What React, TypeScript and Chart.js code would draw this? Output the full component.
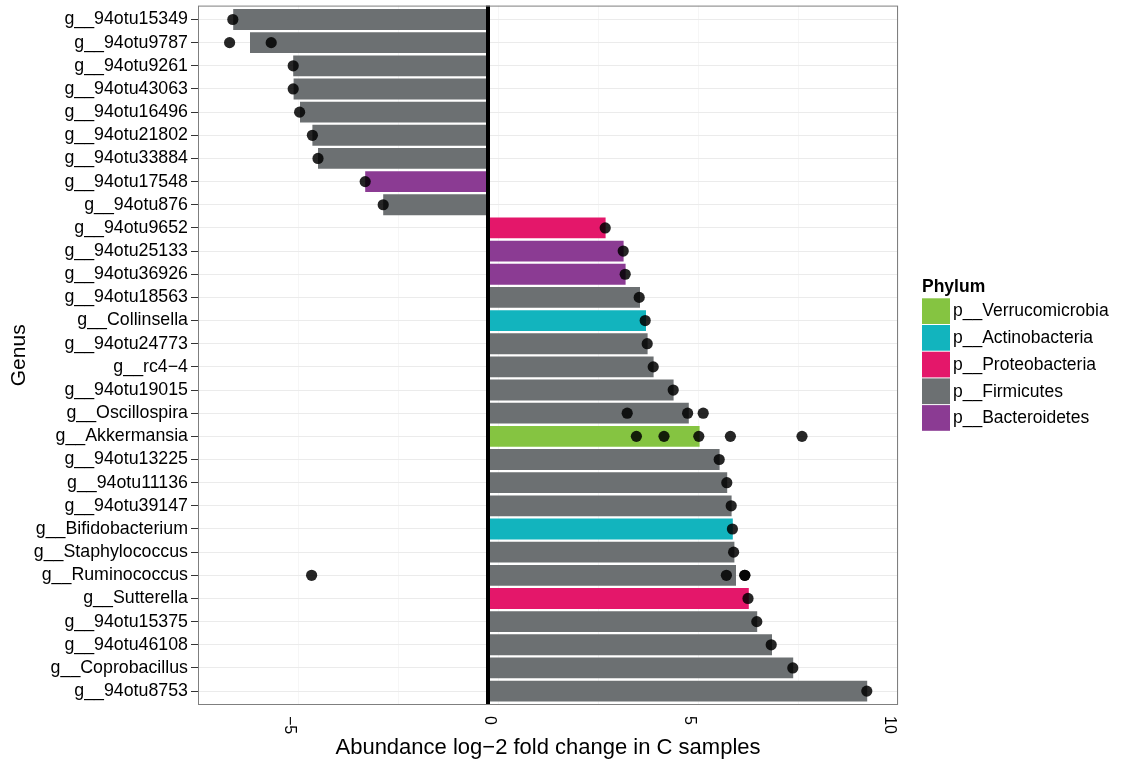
import React, { useEffect, useRef } from "react";
import { Chart, registerables } from "chart.js";

Chart.register(...registerables);

const FONT = '"Liberation Sans", Arial, Helvetica, sans-serif';

const categories = [
  "g__94otu15349", "g__94otu9787", "g__94otu9261", "g__94otu43063", "g__94otu16496",
  "g__94otu21802", "g__94otu33884", "g__94otu17548", "g__94otu876", "g__94otu9652",
  "g__94otu25133", "g__94otu36926", "g__94otu18563", "g__Collinsella", "g__94otu24773",
  "g__rc4\u22124", "g__94otu19015", "g__Oscillospira", "g__Akkermansia", "g__94otu13225",
  "g__94otu11136", "g__94otu39147", "g__Bifidobacterium", "g__Staphylococcus", "g__Ruminococcus",
  "g__Sutterella", "g__94otu15375", "g__94otu46108", "g__Coprobacillus", "g__94otu8753",
];

const barValues = [
  -6.37, -5.95, -4.87, -4.86, -4.7,
  -4.39, -4.25, -3.07, -2.62, 2.94,
  3.39, 3.44, 3.8, 3.95, 3.99,
  4.14, 4.64, 5.02, 5.29, 5.79,
  5.98, 6.09, 6.12, 6.16, 6.2,
  6.52, 6.73, 7.1, 7.63, 9.48,
];

const barPhylum = [
  "p__Firmicutes", "p__Firmicutes", "p__Firmicutes", "p__Firmicutes", "p__Firmicutes",
  "p__Firmicutes", "p__Firmicutes", "p__Bacteroidetes", "p__Firmicutes", "p__Proteobacteria",
  "p__Bacteroidetes", "p__Bacteroidetes", "p__Firmicutes", "p__Actinobacteria", "p__Firmicutes",
  "p__Firmicutes", "p__Firmicutes", "p__Firmicutes", "p__Verrucomicrobia", "p__Firmicutes",
  "p__Firmicutes", "p__Firmicutes", "p__Actinobacteria", "p__Firmicutes", "p__Firmicutes",
  "p__Proteobacteria", "p__Firmicutes", "p__Firmicutes", "p__Firmicutes", "p__Firmicutes",
];

const pointGenus = [
  "g__94otu15349", "g__94otu9787", "g__94otu9787", "g__94otu9261", "g__94otu43063",
  "g__94otu16496", "g__94otu21802", "g__94otu33884", "g__94otu17548", "g__94otu876",
  "g__94otu9652", "g__94otu25133", "g__94otu36926", "g__94otu18563", "g__Collinsella",
  "g__94otu24773", "g__rc4\u22124", "g__94otu19015",
  "g__Oscillospira", "g__Oscillospira", "g__Oscillospira",
  "g__Akkermansia", "g__Akkermansia", "g__Akkermansia", "g__Akkermansia", "g__Akkermansia",
  "g__94otu13225", "g__94otu11136", "g__94otu39147", "g__Bifidobacterium", "g__Staphylococcus",
  "g__Ruminococcus", "g__Ruminococcus", "g__Ruminococcus", "g__Ruminococcus",
  "g__Sutterella", "g__94otu15375", "g__94otu46108", "g__Coprobacillus", "g__94otu8753",
];

const pointValues = [
  -6.38, -6.46, -5.42, -4.87, -4.87,
  -4.71, -4.39, -4.25, -3.07, -2.62,
  2.93, 3.38, 3.43, 3.78, 3.93,
  3.98, 4.13, 4.63,
  3.48, 4.99, 5.38,
  3.71, 4.4, 5.27, 6.06, 7.85,
  5.78, 5.97, 6.08, 6.11, 6.14,
  -4.41, 5.96, 6.42, 6.42,
  6.5, 6.72, 7.08, 7.62, 9.47,
];

const phylumNames = [
  "p__Verrucomicrobia", "p__Actinobacteria", "p__Proteobacteria", "p__Firmicutes", "p__Bacteroidetes",
];
const phylumColors = ["#85C441", "#12B4BE", "#E4176A", "#6C7072", "#8B3B93"];

const xTickValues = [-5, 0, 5, 10];
const xTickLabels = ["\u22125", "0", "5", "10"];

const xTitle = "Abundance log\u22122 fold change in C samples";
const yTitle = "Genus";
const legendTitle = "Phylum";

const decorPlugin = {
  id: "decor",
  afterDatasetsDraw(chart: any) {
    const { ctx, chartArea: a, scales } = chart;
    const x0 = scales.x.getPixelForValue(0);
    ctx.save();
    ctx.fillStyle = "#000";
    ctx.fillRect(x0 - 2, a.top, 4, a.bottom - a.top);
    ctx.restore();
  },
  afterDraw(chart: any) {
    const { ctx, chartArea: a, scales } = chart;
    ctx.save();
    // panel border
    ctx.strokeStyle = "#7F7F7F";
    ctx.lineWidth = 1;
    ctx.strokeRect(a.left + 0.5, a.top + 0.5, a.right - a.left - 1, a.bottom - a.top - 1);

    // x tick labels rotated clockwise
    ctx.fillStyle = "#000";
    ctx.font = `16px ${FONT}`;
    ctx.textAlign = "left";
    ctx.textBaseline = "middle";
    xTickValues.forEach((v, i) => {
      const px = scales.x.getPixelForValue(v);
      ctx.save();
      ctx.translate(px + 1, a.bottom + 11);
      ctx.rotate(Math.PI / 2);
      ctx.fillText(xTickLabels[i], 0, 0);
      ctx.restore();
    });

    // legend
    const lx = a.right + 24;
    const midY = (a.top + a.bottom) / 2;
    const step = 26.7;
    const top = midY - (19.5 + step * phylumNames.length) / 2;
    ctx.font = `bold 17.5px ${FONT}`;
    ctx.textAlign = "left";
    ctx.textBaseline = "middle";
    ctx.fillStyle = "#000";
    ctx.fillText(legendTitle, lx, top + 8);
    ctx.font = `17.5px ${FONT}`;
    phylumNames.forEach((name, i) => {
      const by = top + 19.5 + i * step;
      ctx.fillStyle = phylumColors[i];
      ctx.fillRect(lx, by, 28, step - 1);
      ctx.fillStyle = "#000";
      ctx.fillText(name, lx + 31, by + step / 2);
    });
    ctx.restore();
  },
};

export default function App() {
  const ref = useRef<HTMLCanvasElement | null>(null);

  useEffect(() => {
    if (!ref.current) return;
    const chart = new Chart(ref.current, {
      type: "bar",
      data: {
        datasets: [
          {
            type: "scatter",
            data: pointGenus.map((g, i) => ({ x: pointValues[i], y: categories.indexOf(g) })),
            backgroundColor: "rgba(0,0,0,0.85)",
            borderWidth: 0,
            pointRadius: 5.6,
            pointHoverRadius: 5.6,
            order: 0,
          } as any,
          {
            type: "bar",
            data: categories.map((c, i) => ({ x: barValues[i], y: i })),
            backgroundColor: barPhylum.map((p) => phylumColors[phylumNames.indexOf(p)]),
            borderWidth: 0,
            barPercentage: 0.9,
            categoryPercentage: 1,
            order: 1,
          } as any,
        ],
      },
      options: {
        indexAxis: "y",
        animation: false,
        responsive: false,
        maintainAspectRatio: false,
        layout: { padding: { top: 5, right: 223, left: 0, bottom: 0 } },
        plugins: { legend: { display: false }, tooltip: { enabled: false } },
        scales: {
          x: {
            type: "linear",
            position: "bottom",
            min: -7.25,
            max: 10.25,
            offset: false,
            ticks: { stepSize: 2.5, includeBounds: false, display: false },
            grid: {
              offset: false,
              color: (c: any) => (c.tick && Math.abs(c.tick.value % 5) < 1e-9 ? "#EBEBEB" : "#F6F6F6"),
              tickColor: (c: any) => (c.tick && Math.abs(c.tick.value % 5) < 1e-9 ? "#333333" : "rgba(0,0,0,0)"),
              tickLength: 6,
              lineWidth: 1,
            },
            border: { display: false },
            title: {
              display: true,
              text: xTitle,
              color: "#000",
              font: { family: FONT, size: 22 },
              padding: { top: 0, bottom: 4 },
            },
            afterFit: (s: any) => {
              s.height = 60;
              s.paddingLeft = 0;
              s.paddingRight = 0;
            },
          } as any,
          y: {
            type: "linear",
            reverse: true,
            min: -0.6,
            max: 29.6,
            offset: false,
            ticks: {
              stepSize: 1,
              includeBounds: false,
              autoSkip: false,
              padding: 3,
              color: "#000",
              font: { family: FONT, size: 17.8 },
              callback: (v: any) => categories[Math.round(Number(v))] ?? "",
            },
            grid: { offset: false, color: "#EBEBEB", tickColor: "#333333", tickLength: 7, lineWidth: 1 },
            border: { display: false },
            title: {
              display: true,
              text: yTitle,
              color: "#000",
              font: { family: FONT, size: 21 },
              padding: { top: 7, bottom: 0 },
            },
            afterFit: (s: any) => {
              s.width = 198;
              s.paddingTop = 0;
              s.paddingBottom = 0;
            },
          } as any,
        },
      },
      plugins: [decorPlugin],
    });
    return () => chart.destroy();
  }, []);

  return (
    <div style={{ position: "absolute", left: 0, top: 0, width: 1121, height: 765, background: "#fff" }}>
      <canvas ref={ref} width={1121} height={765} style={{ display: "block", width: 1121, height: 765 }} />
    </div>
  );
}
